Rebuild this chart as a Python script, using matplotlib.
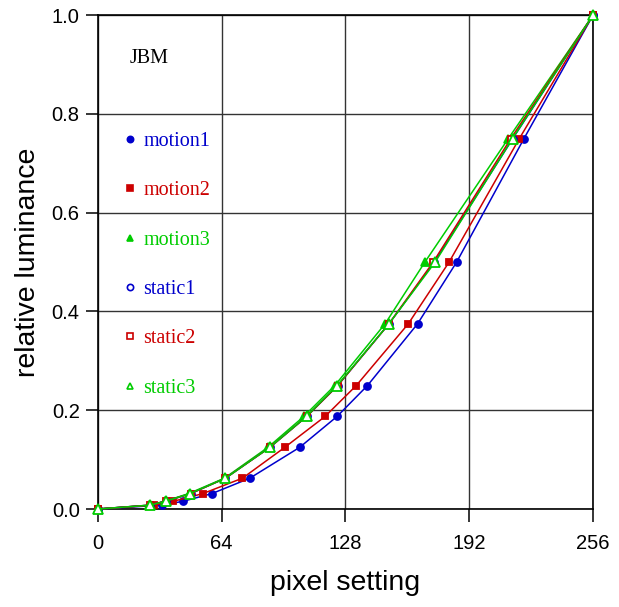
import matplotlib
matplotlib.use("Agg")
import matplotlib.pyplot as plt
from matplotlib.lines import Line2D

plt.rcParams["font.family"] = ["Liberation Sans", "DejaVu Sans"]

# luminance levels (same for every series)
luminance = [0, 1 / 128, 1 / 64, 1 / 32, 1 / 16, 1 / 8, 3 / 16, 1 / 4, 3 / 8, 1 / 2, 3 / 4, 1]

# pixel settings
motion1 = [0, 33, 44, 59, 78.6, 104.4, 123.7, 139.4, 165.3, 185.5, 220.3, 256]
motion2 = [0, 29, 39, 54.3, 74.8, 96.7, 117.5, 133.6, 160.5, 181.6, 217.9, 256]
motion3 = [0, 26.5, 34.5, 47, 65.5, 88, 106.5, 122.5, 148.5, 169.1, 212.2, 256]
static1 = [0, 27, 35, 48, 66, 89, 108, 124, 150.5, 174, 214.5, 256]
static2 = [0, 27, 35, 48, 66, 89, 108, 124, 150.5, 173.4, 213.5, 256]
static3 = [0, 27, 35, 47.6, 66, 88.9, 107.9, 123.7, 150.5, 174.4, 214.4, 256]

x_ticks = [0, 64, 128, 192, 256]
y_ticks = [0.0, 0.2, 0.4, 0.6, 0.8, 1.0]

BLUE = "#0000cc"
RED = "#cc0000"
GREEN = "#00cc00"

series = [
    ("motion1", motion1, BLUE, "o", True, 5),
    ("motion2", motion2, RED, "s", True, 5),
    ("motion3", motion3, GREEN, "^", True, 6),
    ("static1", static1, BLUE, "o", False, 5),
    ("static2", static2, RED, "s", False, 5),
    ("static3", static3, GREEN, "^", False, 7),
]

fig = plt.figure(figsize=(6.19, 6.07), dpi=100)
ax = fig.add_axes([0.158, 0.1614, 0.8, 0.8136])

handles = []
for name, xs, color, marker, filled, ms in series:
    face = color if filled else "white"
    ax.plot(xs, luminance, color=color, lw=1.1, marker=marker, ms=ms,
            mfc=face, mec=color, mew=1.3, zorder=3 if filled else 4,
            clip_on=False)
    handles.append(Line2D([], [], ls="none", marker=marker, ms=4.5,
                          mfc=face, mec=color, mew=1.2, label=name))

ax.set_xlim(0, 256)
ax.set_ylim(0, 1)
ax.set_xticks(x_ticks)
ax.set_yticks(y_ticks)
ax.set_yticklabels([f"{v:.1f}" for v in y_ticks])
ax.grid(True, color="#333333", lw=1.0)
ax.set_axisbelow(True)
for sp in ax.spines.values():
    sp.set_linewidth(1.2)
    sp.set_color("black")
ax.tick_params(direction="out", length=9, width=1.1, labelsize=14.5)
ax.tick_params(axis="x", pad=9)
ax.tick_params(axis="y", pad=4)

ax.set_xlabel("pixel setting", fontsize=20.5, labelpad=12)
ax.set_ylabel("relative luminance", fontsize=20.5, labelpad=8)

ax.text(16.5, 0.912, "JBM", family="Liberation Serif", fontsize=14.5,
        color="black", va="center", ha="left")

leg = ax.legend(handles=handles, loc="upper left", bbox_to_anchor=(0.017, 0.80),
                frameon=False, handlelength=0.6, handletextpad=0.35,
                labelspacing=1.5, labelcolor="markeredgecolor",
                prop={"family": "Liberation Serif", "size": 14.5})

fig.savefig("out.png", dpi=100)
